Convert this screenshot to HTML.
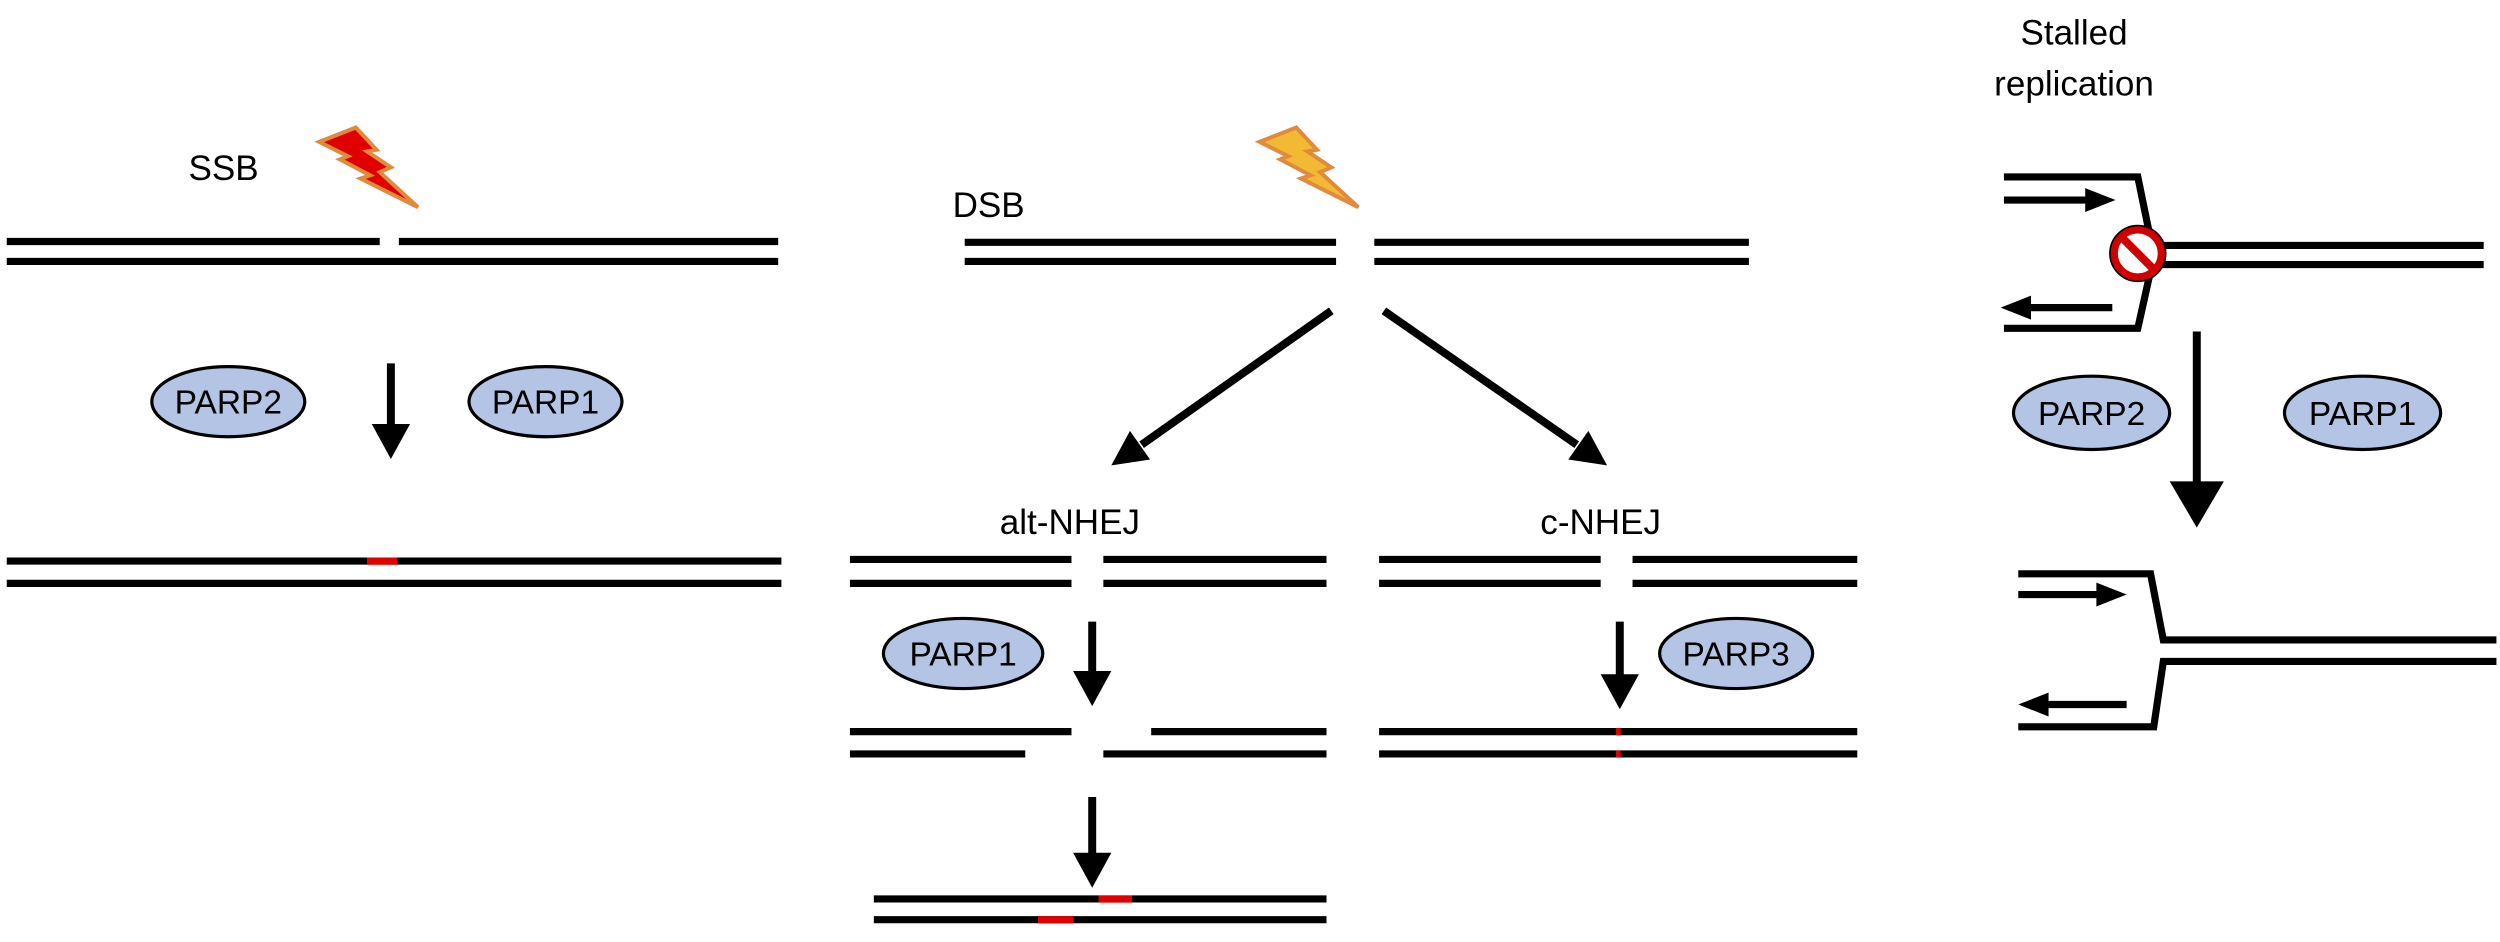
<!DOCTYPE html>
<html><head><meta charset="utf-8"><style>
html,body{margin:0;padding:0;background:#fff;}
svg{display:block;}
text{font-family:"Liberation Sans",Arial,sans-serif;fill:#000;}
</style></head><body>
<svg width="2500" height="942" viewBox="0 0 1568 591" xmlns="http://www.w3.org/2000/svg">
<rect width="1568" height="591" fill="#fff"/>
<g stroke="#000" stroke-width="4.5" fill="none">
<line x1="4" y1="151.5" x2="238" y2="151.5"/>
<line x1="250" y1="151.5" x2="488" y2="151.5"/>
<line x1="4" y1="164" x2="488" y2="164"/>
<line x1="4" y1="352" x2="490" y2="352"/>
<line x1="4" y1="366" x2="490" y2="366"/>
<line x1="605" y1="152" x2="838" y2="152"/>
<line x1="862" y1="152" x2="1097" y2="152"/>
<line x1="605" y1="164" x2="838" y2="164"/>
<line x1="862" y1="164" x2="1097" y2="164"/>
<line x1="533" y1="351" x2="672" y2="351"/>
<line x1="692" y1="351" x2="832" y2="351"/>
<line x1="533" y1="366" x2="672" y2="366"/>
<line x1="692" y1="366" x2="832" y2="366"/>
<line x1="533" y1="459" x2="672" y2="459"/>
<line x1="722" y1="459" x2="832" y2="459"/>
<line x1="533" y1="473" x2="643" y2="473"/>
<line x1="692" y1="473" x2="832" y2="473"/>
<line x1="548" y1="564" x2="832" y2="564"/>
<line x1="548" y1="577" x2="832" y2="577"/>
<line x1="865" y1="351" x2="1004" y2="351"/>
<line x1="1024" y1="351" x2="1165" y2="351"/>
<line x1="865" y1="366" x2="1004" y2="366"/>
<line x1="1024" y1="366" x2="1165" y2="366"/>
<line x1="865" y1="459" x2="1165" y2="459"/>
<line x1="865" y1="473" x2="1165" y2="473"/>
<polyline points="1257,111 1341,111 1349,150"/>
<polyline points="1349,170 1341,206 1257,206"/>
<line x1="1340" y1="154" x2="1558" y2="154"/>
<line x1="1340" y1="166" x2="1558" y2="166"/>
<line x1="1257" y1="125.5" x2="1312" y2="125.5"/>
<line x1="1270" y1="193" x2="1325" y2="193"/>
<polyline points="1266,360 1349,360 1357,401.5 1566,401.5"/>
<polyline points="1266,456 1351,456 1357,415 1566,415"/>
<line x1="1266" y1="373" x2="1320" y2="373"/>
<line x1="1280" y1="442" x2="1334" y2="442"/>
<line x1="245" y1="228" x2="245" y2="270" stroke-width="5"/>
<line x1="685" y1="390" x2="685" y2="424" stroke-width="5"/>
<line x1="685" y1="500" x2="685" y2="538" stroke-width="5"/>
<line x1="1016" y1="390" x2="1016" y2="426" stroke-width="5"/>
<line x1="1378" y1="208" x2="1378" y2="305" stroke-width="5"/>
<line x1="835" y1="195" x2="716" y2="279" stroke-width="5"/>
<line x1="868" y1="195" x2="989" y2="279" stroke-width="5"/>
</g>
<g fill="#000">
<polygon points="233,266 257,266 245,288"/>
<polygon points="673,421 697,421 685,443"/>
<polygon points="673,535 697,535 685,557"/>
<polygon points="1004,423 1028,423 1016,445"/>
<polygon points="1361,302 1395,302 1378,331"/>
<polygon points="697,292 721.3,288.3 708.7,270.3"/>
<polygon points="1008,292 983.7,288.3 996.3,270.3"/>
<polygon points="1327,125.5 1308,118 1308,133"/>
<polygon points="1255,193 1274,185.5 1274,200.5"/>
<polygon points="1334,373 1315,365.5 1315,380.5"/>
<polygon points="1266,442 1285,434.5 1285,449.5"/>
</g>
<g fill="#e00000">
<rect x="230" y="349.8" width="19" height="4.5"/>
<rect x="689" y="561.8" width="21" height="4.5"/>
<rect x="651" y="574.8" width="22" height="4.5"/>
<rect x="1013.5" y="456.8" width="3" height="4.5"/>
<rect x="1013.5" y="470.8" width="3" height="4.5"/>
</g>
<polygon points="200,89 223,80 236,94 230,95 245,105 238,108 262,130 226,112 232,110 213,100 218,98" fill="#e00000" stroke="#e08a3c" stroke-width="2.5"/>
<polygon points="790,89 813,80 826,94 820,95 835,105 828,108 852,130 816,112 822,110 803,100 808,98" fill="#f2b935" stroke="#e08a3c" stroke-width="2.5"/>
<circle cx="1341" cy="159" r="15" fill="#fff" stroke="#d00000" stroke-width="5"/>
<circle cx="1341" cy="159" r="17.5" fill="none" stroke="#000" stroke-width="1"/>
<line x1="1331" y1="149" x2="1351" y2="169" stroke="#d00000" stroke-width="5"/>
<g fill="#b4c4e4" stroke="#000" stroke-width="2">
<ellipse cx="143" cy="252" rx="48" ry="22"/>
<ellipse cx="342" cy="252" rx="48" ry="22"/>
<ellipse cx="604" cy="410" rx="50" ry="22"/>
<ellipse cx="1089" cy="410" rx="48" ry="22"/>
<ellipse cx="1312" cy="259" rx="49" ry="23"/>
<ellipse cx="1482" cy="259" rx="49" ry="23"/>
</g>
<g font-size="21" text-anchor="middle">
<text x="143" y="259.5">PARP2</text>
<text x="342" y="259.5">PARP1</text>
<text x="604" y="417.5">PARP1</text>
<text x="1089" y="417.5">PARP3</text>
<text x="1312" y="266.5">PARP2</text>
<text x="1482" y="266.5">PARP1</text>
</g>
<g font-size="22" text-anchor="middle">
<text x="140" y="113">SSB</text>
<text x="620" y="136">DSB</text>
<text x="671" y="335">alt-NHEJ</text>
<text x="1004" y="335">c-NHEJ</text>
<text x="1301" y="28">Stalled</text>
<text x="1301" y="60">replication</text>
</g>
</svg>
</body></html>
